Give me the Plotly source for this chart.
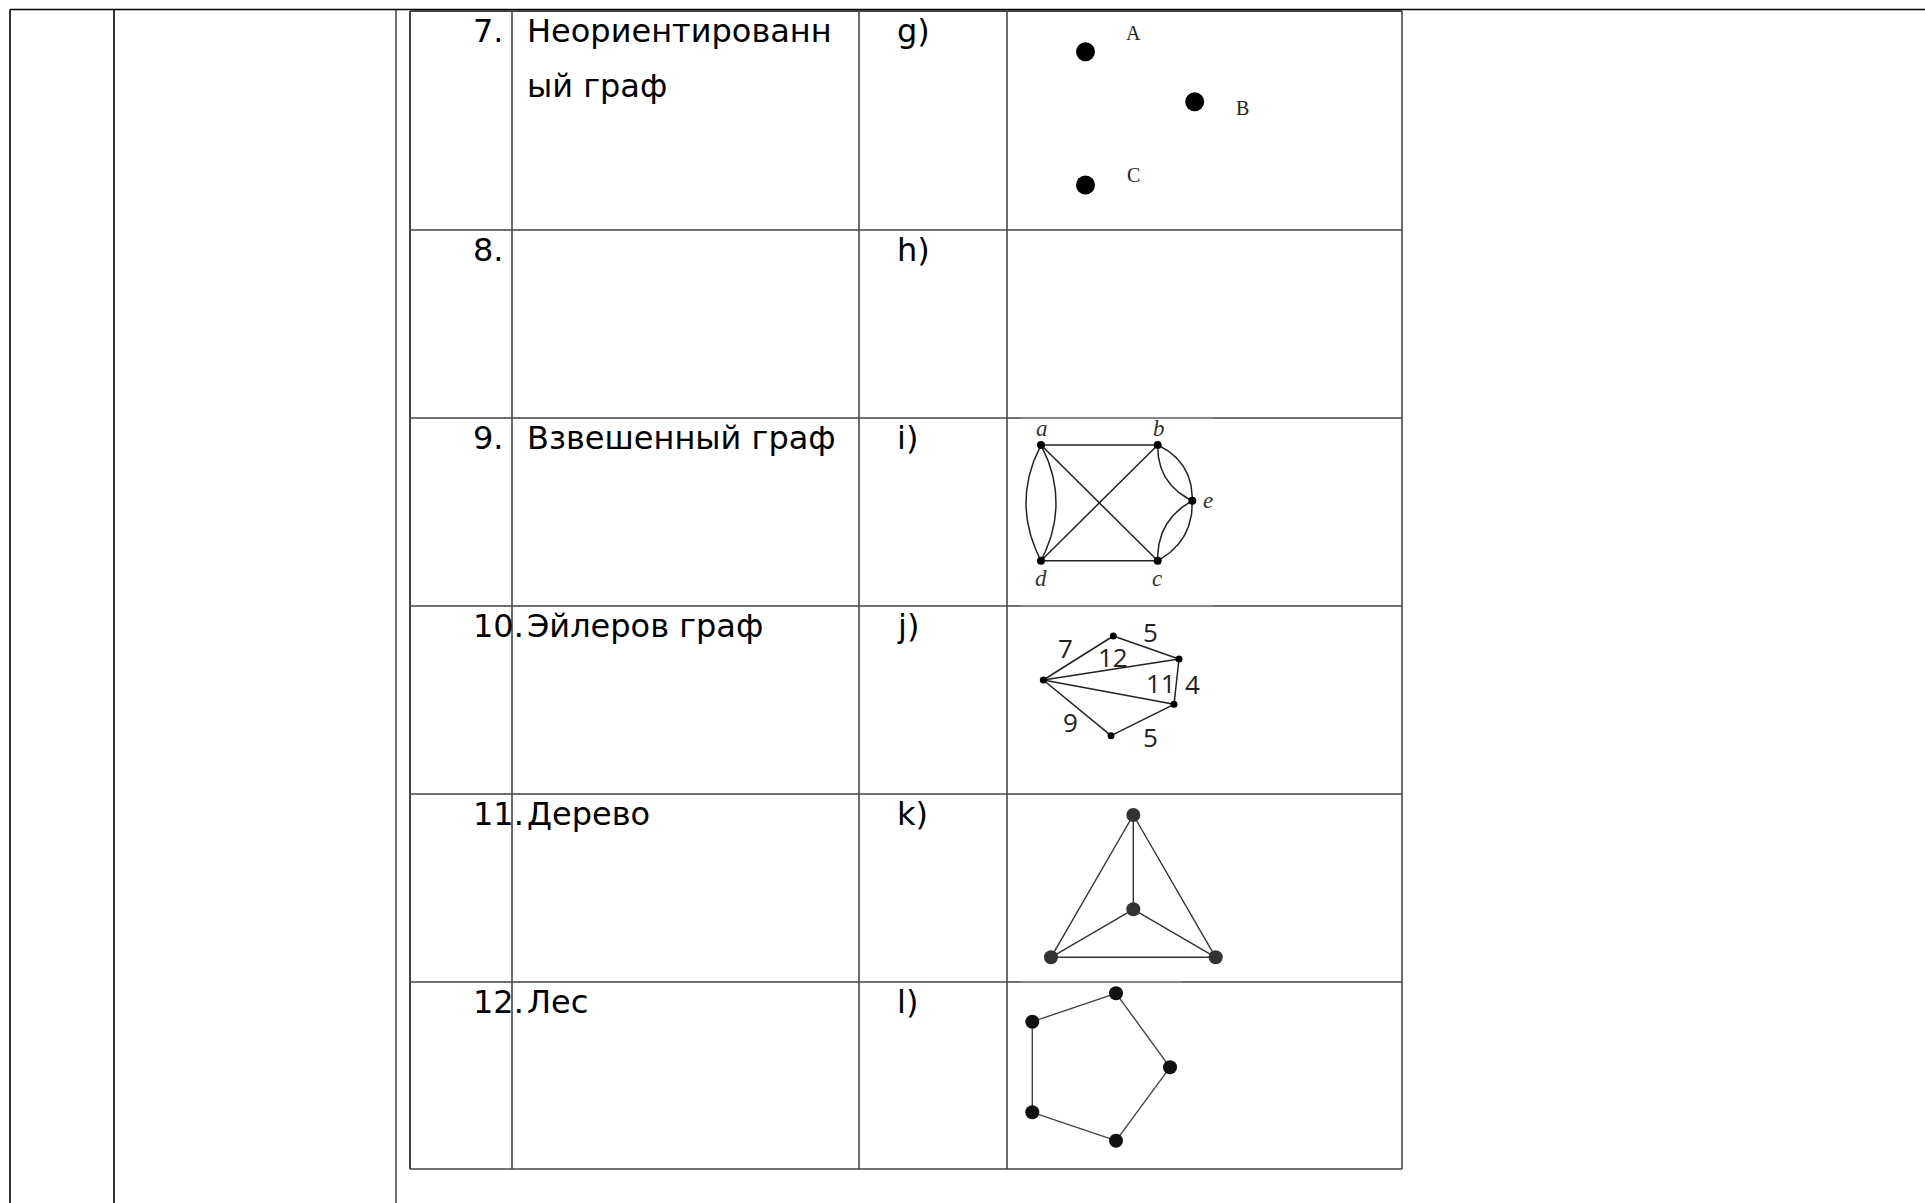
import numpy as np
import plotly.graph_objects as go

W, H = 1925, 1203

# ---------------- table geometry (page pixels) ----------------
col_x = [410, 512, 859, 1007, 1402]
row_y = [11, 230, 418, 606, 794, 982, 1169]
left_x = [10, 114, 396]
top_line_y = 9.5

# ---------------- table text ----------------
numbers = ["7.", "8.", "9.", "10.", "11.", "12."]
names = [["Неориентированн", "ый граф"], [], ["Взвешенный граф"],
         ["Эйлеров граф"], ["Дерево"], ["Лес"]]
letters = ["g)", "h)", "i)", "j)", "k)", "l)"]

# ---------------- graph g) : three isolated vertices ----------------
g_x = [1085.5, 1194.7, 1085.5]
g_y = [51.7, 101.7, 185.0]
g_labels = ["A", "B", "C"]
g_lx = [1133, 1242, 1133]
g_ly = [33, 108, 175]

# ---------------- graph i) : multigraph a,b,c,d,e ----------------
i_labels = ["a", "b", "c", "d", "e"]
i_x = [1041.0, 1157.7, 1157.7, 1041.0, 1192.3]
i_y = [445.0, 445.0, 560.7, 560.7, 500.7]
i_lx = [1041.7, 1159.0, 1156.7, 1040.7, 1208.0]
i_ly = [428, 428, 578, 578, 500]
i_edges = [(0, 1), (3, 2), (0, 2), (1, 3)]
i_arcs = [(0, 3, 30), (0, 3, -30), (1, 4, 21), (1, 4, -21), (4, 2, 21), (4, 2, -21)]

# ---------------- graph j) : weighted graph ----------------
j_x = [1043.3, 1113.3, 1179.0, 1174.0, 1111.0]
j_y = [680.0, 636.0, 659.0, 704.3, 735.7]
j_edges = [(0, 1), (1, 2), (0, 2), (0, 3), (2, 3), (0, 4), (4, 3)]
j_weights = ["7", "5", "12", "11", "4", "9", "5"]
j_wx = [1065, 1150, 1113, 1161, 1192, 1070, 1150]
j_wy = [648, 632, 657, 683, 684, 722, 737]

# ---------------- graph k) : K4 ----------------
k_x = [1133.3, 1133.3, 1051.0, 1215.7]
k_y = [815.0, 909.3, 957.3, 957.3]
k_edges = [(0, 2), (0, 3), (0, 1), (1, 2), (1, 3), (2, 3)]

# ---------------- graph l) : cycle C5 ----------------
l_x = [1116.0, 1032.3, 1170.0, 1032.3, 1116.0]
l_y = [993.3, 1021.7, 1067.3, 1112.3, 1140.7]
l_edges = [(0, 1), (1, 3), (3, 4), (4, 2), (2, 0)]

fig = go.Figure()
shapes = []
annotations = []

TABLE_COL = "#444444"


def hline(x0, x1, y, color=TABLE_COL, width=1.6):
    shapes.append(dict(type="line", xref="x", yref="y", x0=x0, x1=x1, y0=y, y1=y,
                       line=dict(color=color, width=width)))


def vline(x, y0, y1, color=TABLE_COL, width=1.6):
    shapes.append(dict(type="line", xref="x", yref="y", x0=x, x1=x, y0=y0, y1=y1,
                       line=dict(color=color, width=width)))


# outer page frame lines
hline(left_x[0], W, top_line_y, color="#000000", width=1.7)
for lx in left_x[:2]:
    vline(lx, top_line_y, H, color="#000000", width=1.6)
vline(left_x[2], top_line_y, H, color="#222222", width=1.3)

# table grid
for k, ry in enumerate(row_y):
    hline(col_x[0], col_x[-1], ry, width=2.2 if k == 0 else 1.6)
for cx in col_x:
    vline(cx, row_y[0], row_y[-1], width=2.0 if cx == col_x[0] else 1.6)

# segments partially covered by the pasted pictures (lighter)
hline(1021, 1213, row_y[2], color="#8c8c8c", width=1.4)
hline(1021, 1213, row_y[3], color="#8c8c8c", width=1.4)
hline(1021, 1182, row_y[5], color="#8c8c8c", width=1.4)

FONT = "DejaVu Sans"
FS = 32
for r in range(len(numbers)):
    top = row_y[r]
    yc = top + 20
    annotations.append(dict(x=471, y=yc, text=numbers[r], xanchor="left", yanchor="middle",
                            showarrow=False, font=dict(family=FONT, size=FS, color="#000")))
    annotations.append(dict(x=895, y=yc, text=letters[r], xanchor="left", yanchor="middle",
                            showarrow=False, font=dict(family=FONT, size=FS, color="#000")))
    for li, t in enumerate(names[r]):
        annotations.append(dict(x=525, y=yc + 55 * li, text=t, xanchor="left", yanchor="middle",
                                showarrow=False, font=dict(family=FONT, size=FS, color="#000")))


def edge_trace(xs, ys, edges, color, width):
    ex, ey = [], []
    for a, b in edges:
        ex += [xs[a], xs[b], None]
        ey += [ys[a], ys[b], None]
    return go.Scatter(x=ex, y=ey, mode="lines", line=dict(color=color, width=width),
                      hoverinfo="skip", showlegend=False)


def arc_trace(xs, ys, arcs, color, width):
    ex, ey = [], []
    t = np.linspace(0, 1, 40)
    for a, b, off in arcs:
        p0 = np.array([xs[a], ys[a]])
        p1 = np.array([xs[b], ys[b]])
        d = p1 - p0
        n = np.array([d[1], -d[0]]) / np.hypot(*d)
        c = (p0 + p1) / 2 + off * n
        pts = ((1 - t) ** 2)[:, None] * p0 + (2 * (1 - t) * t)[:, None] * c + (t ** 2)[:, None] * p1
        ex += list(pts[:, 0]) + [None]
        ey += list(pts[:, 1]) + [None]
    return go.Scatter(x=ex, y=ey, mode="lines", line=dict(color=color, width=width),
                      hoverinfo="skip", showlegend=False)


def node_trace(xs, ys, size, color):
    return go.Scatter(x=xs, y=ys, mode="markers", marker=dict(size=size, color=color, line=dict(width=0)),
                      hoverinfo="skip", showlegend=False)


# g)
fig.add_trace(node_trace(g_x, g_y, 19, "#000000"))
for t, x, y in zip(g_labels, g_lx, g_ly):
    annotations.append(dict(x=x, y=y, text=t, showarrow=False, xanchor="center", yanchor="middle",
                            font=dict(family="Liberation Serif", size=20, color="#222")))

# i)
fig.add_trace(edge_trace(i_x, i_y, i_edges, "#222222", 1.5))
fig.add_trace(arc_trace(i_x, i_y, i_arcs, "#222222", 1.5))
fig.add_trace(node_trace(i_x, i_y, 8, "#000000"))
for t, x, y in zip(i_labels, i_lx, i_ly):
    annotations.append(dict(x=x, y=y, text="<i>" + t + "</i>", showarrow=False, xanchor="center",
                            yanchor="middle", font=dict(family="Liberation Serif", size=23, color="#333")))

# j)
fig.add_trace(edge_trace(j_x, j_y, j_edges, "#222222", 1.5))
fig.add_trace(node_trace(j_x, j_y, 7, "#000000"))
for t, x, y in zip(j_weights, j_wx, j_wy):
    annotations.append(dict(x=x, y=y, text=t, showarrow=False, xanchor="center", yanchor="middle",
                            font=dict(family="Open Sans", size=26, color="#222")))

# k)
fig.add_trace(edge_trace(k_x, k_y, k_edges, "#333333", 1.4))
fig.add_trace(node_trace(k_x, k_y, 14, "#333333"))

# l)
fig.add_trace(edge_trace(l_x, l_y, l_edges, "#444444", 1.4))
fig.add_trace(node_trace(l_x, l_y, 14, "#111111"))

fig.update_layout(
    width=W, height=H,
    margin=dict(l=0, r=0, t=0, b=0),
    paper_bgcolor="white", plot_bgcolor="white",
    xaxis=dict(range=[0, W], visible=False, fixedrange=True),
    yaxis=dict(range=[H, 0], visible=False, fixedrange=True),
    shapes=shapes, annotations=annotations,
    showlegend=False,
)

fig.write_html("out.html", config={"displayModeBar": False},
               post_script="document.body.style.margin='0';document.body.style.overflow='hidden';")
